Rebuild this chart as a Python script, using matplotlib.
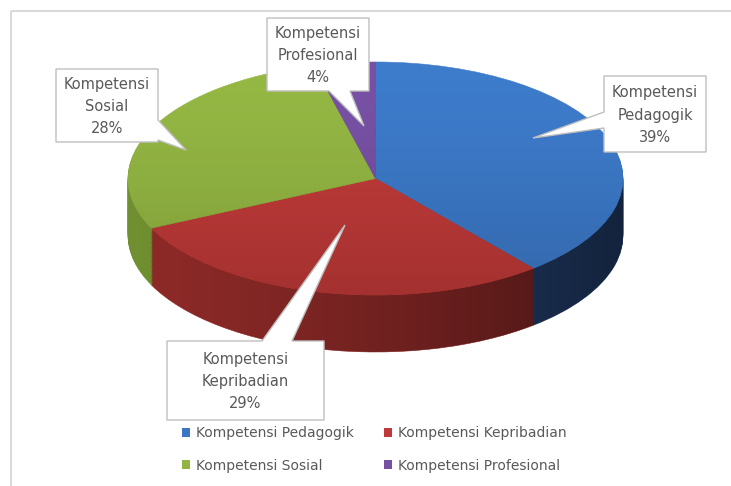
import numpy as np
import matplotlib
matplotlib.use("Agg")
import matplotlib.pyplot as plt
from matplotlib.patches import Patch, Polygon, Rectangle
from matplotlib.path import Path

# ---- data ----
categories = ["Kompetensi Pedagogik", "Kompetensi Kepribadian",
              "Kompetensi Sosial", "Kompetensi Profesional"]
values = [39, 29, 28, 4]
top_colors = ["#3d7bcb", "#c23b39", "#95b844", "#7851a5"]
side_colors = ["#274678", "#8e2a28", "#6f8f30", "#4a2f6a"]
legend_colors = ["#3b76c4", "#c0393a", "#93b443", "#7650a3"]

W, H = 731, 486
fig = plt.figure(figsize=(W / 100, H / 100), dpi=100)

# pie geometry in pixels (layout)
cx, cy, rx, ry, depth = 375.5, 178.5, 247.5, 116.5, 57
d = depth / ry

ax = fig.add_axes([0, 0, 1, 1])
ax.set_zorder(1)


def draw_pie(colors, offset, z):
    ws, _ = ax.pie(values, colors=colors, startangle=90, counterclock=False,
                   radius=1, center=(0, -offset),
                   wedgeprops=dict(linewidth=0.4, zorder=z))
    for w in ws:
        w.set_edgecolor(w.get_facecolor())
    return ws


n_layers = 45
for k in range(n_layers, 0, -1):
    draw_pie(side_colors, d * k / n_layers, 1)

# horizontal shading on the side (lighter left, darker right)
arc = Path.arc(180, 360)
side_verts = np.vstack([arc.vertices + [0, -d], [[1, 0], [-1, 0], [-1, -d]]])
side_codes = np.concatenate([arc.codes, [Path.LINETO, Path.LINETO, Path.CLOSEPOLY]])
side_path = Path(side_verts, side_codes)
gx = np.linspace(0, 1, 256)
side_grad = np.zeros((1, 256, 4))
side_grad[0, :, 3] = 0.5 * gx ** 1.3
im = ax.imshow(side_grad, extent=(-1, 1, -1 - d, 0.05), aspect="auto",
               zorder=2, interpolation="bilinear")
im.set_clip_path(side_path, transform=ax.transData)

wedges = draw_pie(top_colors, 0, 3)

# vertical shading on the top face
top_grad = np.zeros((256, 1, 4))
top_grad[:, 0, 3] = 0.16 * np.linspace(0, 1, 256) ** 1.5
im2 = ax.imshow(top_grad, extent=(-1, 1, -1, 1), aspect="auto", zorder=4,
                interpolation="bilinear", origin="upper")
im2.set_clip_path(Path.unit_circle(), transform=ax.transData)

ax.set_aspect("auto")
ax.set_xlim(-cx / rx, (W - cx) / rx)
ax.set_ylim(-(H - cy) / ry, cy / ry)
ax.axis("off")

# overlay axes in pixel coordinates for frame and callouts
axt = fig.add_axes([0, 0, 1, 1])
axt.set_zorder(2)
axt.patch.set_alpha(0)
axt.set_xlim(0, W)
axt.set_ylim(H, 0)
axt.axis("off")
axt.add_patch(Rectangle((10.5, 11.5), 900, 700, fill=False,
                        edgecolor="#d9d9d9", linewidth=1.5))

total = sum(values)
label_texts = [c.replace(" ", "\n") + "\n" + f"{v / total * 100:.0f}%"
               for c, v in zip(categories, values)]

# callout layout: box (x0, y0, x1, y1), side, base span, tip
callouts = [
    ((604, 76, 706, 152), "left", (112, 128), (533, 138)),
    ((167, 341, 324, 420), "top", (262, 292), (345, 225)),
    ((56, 69, 158, 142), "right", (120, 140), (186, 150)),
    ((267, 18, 369, 91), "bottom", (329, 350), (364, 126)),
]


def callout_pts(box, side, base, tip):
    x0, y0, x1, y1 = box
    if side == "bottom":
        return [(x0, y0), (x1, y0), (x1, y1), (base[1], y1), tip,
                (base[0], y1), (x0, y1)]
    if side == "top":
        return [(x0, y0), (base[0], y0), tip, (base[1], y0), (x1, y0),
                (x1, y1), (x0, y1)]
    if side == "left":
        return [(x0, y0), (x1, y0), (x1, y1), (x0, y1), (x0, base[1]), tip,
                (x0, base[0])]
    return [(x0, y0), (x1, y0), (x1, base[0]), tip, (x1, base[1]),
            (x1, y1), (x0, y1)]


for txt, (box, side, base, tip) in zip(label_texts, callouts):
    axt.add_patch(Polygon(callout_pts(box, side, base, tip), closed=True,
                          facecolor="white", edgecolor="#bfbfbf",
                          linewidth=1.0, joinstyle="miter"))
    axt.text((box[0] + box[2]) / 2, (box[1] + box[3]) / 2 + 1, txt,
             ha="center", va="center", fontsize=10.5, color="#595959",
             linespacing=1.62)

# legend (row-wise order like Excel)
order = [0, 2, 1, 3]
handles = [Patch(facecolor=legend_colors[i], edgecolor="none") for i in order]
labels = [categories[i] for i in order]
fig.legend(handles, labels, loc="upper left",
           bbox_to_anchor=(182 / W, (H - 426) / H), ncol=2, frameon=False,
           fontsize=10, handlelength=0.6, handleheight=0.6,
           handletextpad=0.4, columnspacing=2.15, labelspacing=1.34,
           borderpad=0, borderaxespad=0, labelcolor="#595959")

fig.savefig("out.png", dpi=100)
